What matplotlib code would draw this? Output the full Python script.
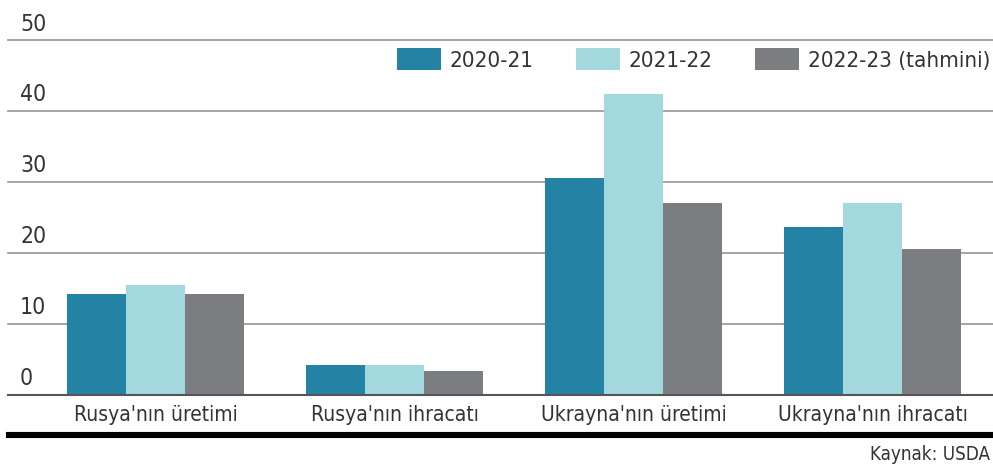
import matplotlib
matplotlib.use("Agg")
import matplotlib.pyplot as plt
import numpy as np
from matplotlib.lines import Line2D
import matplotlib.transforms as mtransforms
from matplotlib import font_manager

# choose a condensed sans if available
cond = None
for f in font_manager.fontManager.ttflist:
    if f.name == 'Liberation Sans Narrow':
        cond = ('Liberation Sans Narrow', 'normal')
        break
if cond is None:
    for f in font_manager.fontManager.ttflist:
        if f.name == 'DejaVu Sans' and 'Condensed' in f.fname:
            cond = ('DejaVu Sans', 'condensed')
            break
if cond is None:
    cond = ('DejaVu Sans', 'normal')
    scale = 0.9
else:
    scale = 1.0 if cond[0] == 'DejaVu Sans' else 1.05

plt.rcParams['font.family'] = [cond[0], 'DejaVu Sans']
plt.rcParams['font.stretch'] = cond[1]

categories = ["Rusya'nın üretimi", "Rusya'nın ihracatı", "Ukrayna'nın üretimi", "Ukrayna'nın ihracatı"]
series_names = ["2020-21", "2021-22", "2022-23 (tahmini)"]
v_2020_21 = [14.2, 4.1, 30.5, 23.6]
v_2021_22 = [15.4, 4.1, 42.4, 27.0]
v_2022_23 = [14.1, 3.3, 27.0, 20.5]
y_ticks = [0, 10, 20, 30, 40, 50]
source = "Kaynak: USDA"

colors = ["#2483a5", "#a3d8df", "#7c7d81"]
text_color = "#333333"

W, H = 993, 471
fig = plt.figure(figsize=(W / 100, H / 100), dpi=100)
ax_left, ax_right = 8, 993
ax_bottom, ax_top = 394.5, 39.7
ax = fig.add_axes([ax_left / W, (H - ax_bottom) / H, (ax_right - ax_left) / W, (ax_bottom - ax_top) / H])

group_px = 239.0
x0_px = 155.5
xlim = ((ax_left - x0_px) / group_px, (ax_right - x0_px) / group_px)
ax.set_xlim(*xlim)
ax.set_ylim(0, 50)

x = np.arange(len(categories))
bw = 59.0 / group_px
bars = []
for i, (vals, c, name) in enumerate(zip([v_2020_21, v_2021_22, v_2022_23], colors, series_names)):
    b = ax.bar(x + (i - 1) * bw, vals, width=bw, color=c, label=name, zorder=3, linewidth=0)
    bars.append(b)

for t in y_ticks:
    col = "#555555" if t == 0 else "#959595"
    lw = 1.5 if t == 0 else 1.2
    ax.axhline(t, color=col, linewidth=lw, zorder=2 if t else 4, clip_on=False)

for s in ax.spines.values():
    s.set_visible(False)
ax.set_xticks([])
ax.set_yticks([])

tick_fs = 16.5 * scale
cat_fs = 15 * scale
leg_fs = 16 * scale
src_fs = 13.5 * scale

trans = mtransforms.blended_transform_factory(fig.transFigure, ax.transData)
for t in y_ticks:
    ax.annotate(str(t), xy=(20 / W, t), xycoords=trans, xytext=(0, 3), textcoords='offset points',
                ha='left', va='bottom', fontsize=tick_fs, color=text_color)

trans_x = mtransforms.blended_transform_factory(ax.transData, fig.transFigure)
for xi, cat in zip(x, categories):
    ax.text(xi, (H - 415) / H, cat, transform=trans_x, ha='center', va='center',
            fontsize=cat_fs, color=text_color)

fig.add_artist(Line2D([9 / W, 1.0], [(H - 435) / H] * 2, color='black', linewidth=4.4,
                      transform=fig.transFigure))
fig.text(990 / W, (H - 455) / H, source, ha='right', va='center', fontsize=src_fs, color=text_color)

leg = ax.legend(handles=[b[0] for b in bars], labels=series_names, ncol=3,
                loc='upper right', bbox_to_anchor=(990 / W, (H - 48) / H),
                bbox_transform=fig.transFigure, frameon=False, fontsize=leg_fs,
                handlelength=1.98, handleheight=1.15, handletextpad=0.4,
                columnspacing=1.9, borderaxespad=0, borderpad=0)
for txt in leg.get_texts():
    txt.set_color(text_color)

fig.savefig("out.png", dpi=100, facecolor='white')
